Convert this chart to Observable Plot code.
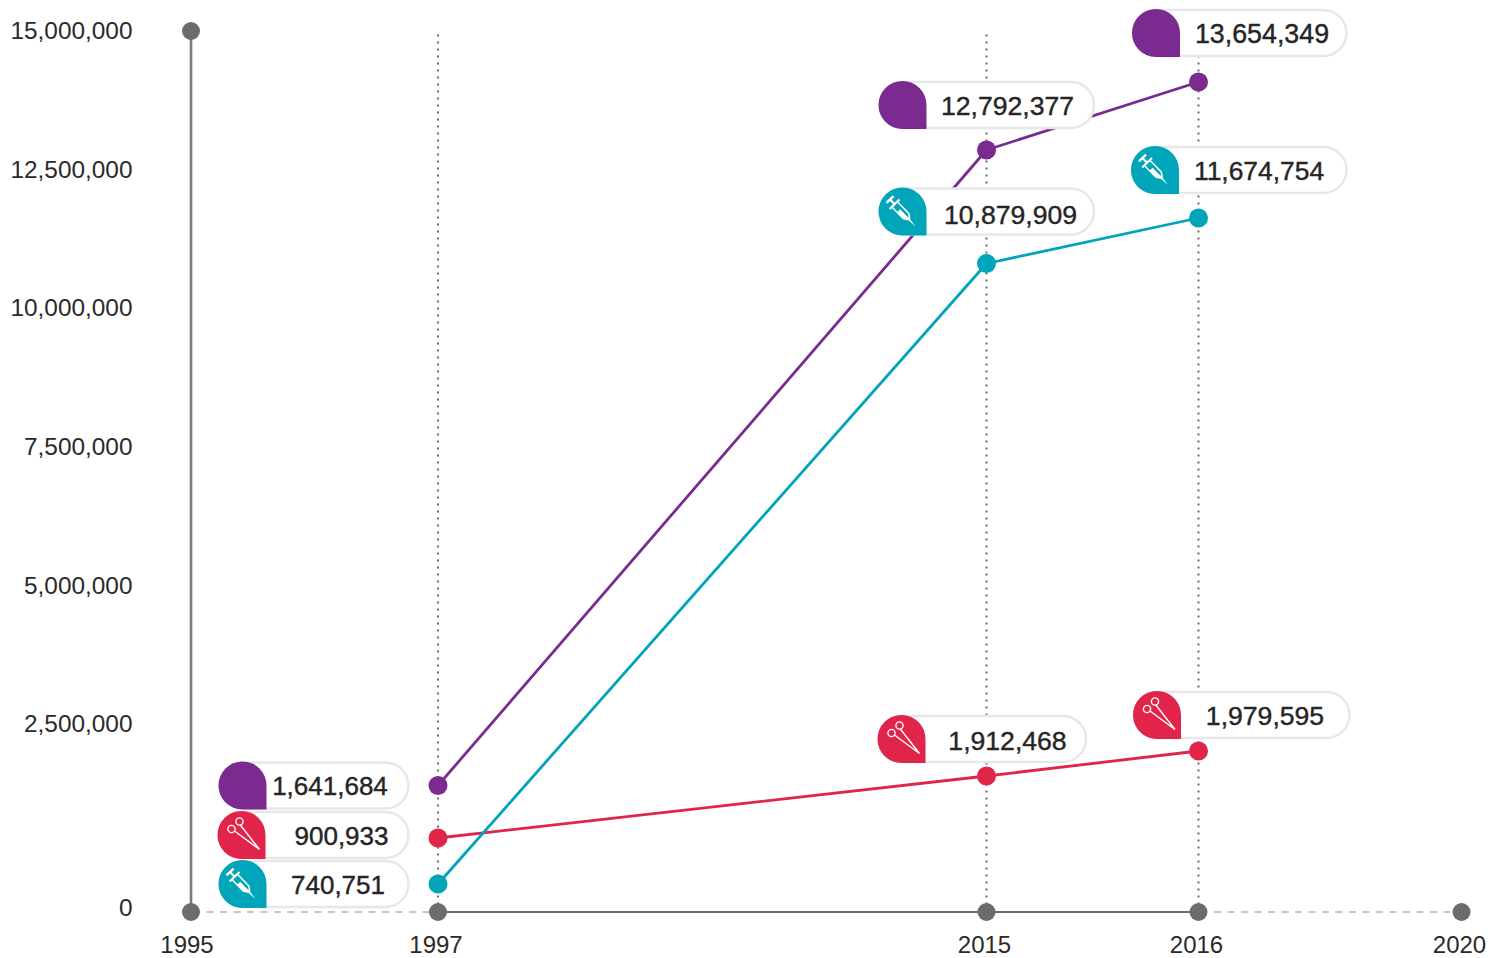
<!DOCTYPE html>
<html>
<head>
<meta charset="utf-8">
<style>
  html, body { margin: 0; padding: 0; background: #fff; }
  svg { display: block; }
</style>
<script src="https://cdn.jsdelivr.net/npm/d3@7"></script>
<script src="https://cdn.jsdelivr.net/npm/@observablehq/plot@0.6"></script>
</head>
<body>
<div id="chart"></div>
<script>
// ---- data ----
const years = [1997, 2015, 2016];
const totalProcedures = [1641684, 12792377, 13654349];
const surgical = [900933, 1912468, 1979595];
const nonsurgical = [740751, 10879909, 11674754];
const axisYears = [1995, 1997, 2015, 2016, 2020];
const yTicks = [2500000, 5000000, 7500000, 10000000, 12500000, 15000000];

// ---- styling and layout ----
const colors = { total: "#7b2a90", surgical: "#e0244a", nonsurgical: "#00a5b9" };
const grey = "#6f6b6c";
const font = "'Liberation Sans', Arial, sans-serif";

// The original's axes are not uniform: each scale is piecewise between these stops.
const xStops = [190.5, 437.5, 986, 1198, 1461];
const yDomain = [0, 740751, 900933, 1641684, 1912468, 1979595, 2500000, 5000000, 7500000,
  10000000, 10879909, 11674754, 12500000, 12792377, 13654349, 15000000];
const yStops = [911.5, 883.5, 837.5, 785, 775.5, 750.5, 723.5, 585.5, 446.5, 307.5, 263, 217.5, 169.5, 149.5, 81.5, 30.5];

const series = [
  { key: "total", values: totalProcedures },
  { key: "surgical", values: surgical },
  { key: "nonsurgical", values: nonsurgical }
];
const rows = series.flatMap(s => years.map((year, i) => ({ year, value: s.values[i], key: s.key })));

// Callout placement relative to each point: left edge, vertical centre, pill width, text centre and baseline centre.
const callouts = [
  { key: "total",       i: 0, left: -219,   cy: 0.5,  w: 190, tx: 111.5, ty: 24.5, fs: 26 },
  { key: "surgical",    i: 0, left: -220,   cy: -2.5, w: 191, tx: 124,   ty: 25,   fs: 26 },
  { key: "nonsurgical", i: 0, left: -219,   cy: 0.5,  w: 190, tx: 119.5, ty: 24.5, fs: 26 },
  { key: "total",       i: 1, left: -107.5, cy: -44.5, w: 215.5, tx: 129, ty: 25,   fs: 26.6 },
  { key: "surgical",    i: 1, left: -108.5, cy: -36.5, w: 208.5, tx: 130, ty: 26,   fs: 26.6 },
  { key: "nonsurgical", i: 1, left: -107.5, cy: -51.5, w: 215.5, tx: 132, ty: 27.5, fs: 26.6 },
  { key: "total",       i: 2, left: -66,    cy: -48.5, w: 214.5, tx: 130, ty: 25,   fs: 26.8 },
  { key: "surgical",    i: 2, left: -65,    cy: -35.5, w: 216.5, tx: 132, ty: 25,   fs: 26.6 },
  { key: "nonsurgical", i: 2, left: -67,    cy: -47.5, w: 215.5, tx: 128, ty: 25,   fs: 26.4 }
];

function drawIcon(g, key) {
  if (key === "surgical") {
    const ic = g.append("g").attr("fill", "none").attr("stroke", "#fff").attr("stroke-width", 1.4);
    ic.append("circle").attr("cx", 14).attr("cy", 18).attr("r", 3.6);
    ic.append("circle").attr("cx", 22).attr("cy", 10.5).attr("r", 3.6);
    ic.append("path").attr("d", "M17,20 L42,38.5 M22.8,14 L42,38.5").attr("stroke-linejoin", "round");
  } else if (key === "nonsurgical") {
    const ic = g.append("g").attr("transform", "translate(11.5,12) rotate(46)");
    // plunger and flange
    ic.append("path").attr("fill", "#fff").attr("d",
      "M-1.2,-5 h2.4 v10 h-2.4z M0,-1.1 h6 v2.2 h-6z M5.5,-6.8 h2.2 v13.6 h-2.2z");
    // barrel outline
    ic.append("path").attr("fill", "none").attr("stroke", "#fff").attr("stroke-width", 1.5)
      .attr("d", "M7.5,-3.8 H23 L27,-1.2 V1.2 L23,3.8 H7.5");
    // liquid in the barrel
    ic.append("path").attr("fill", "#fff").attr("d", "M14,-0.6 H23 L27,-1.2 V1.2 L23,3.8 H14 Z");
    // needle
    ic.append("path").attr("fill", "#fff").attr("d", "M27,-1 L37,0.6 L27,1.1 Z");
  }
}

function calloutMark(index, scales) {
  const root = d3.create("svg:g").attr("font-family", font);
  for (const c of callouts) {
    const values = series.find(s => s.key === c.key).values;
    const px = scales.x(years[c.i]);
    const py = scales.y(values[c.i]);
    const g = root.append("g").attr("transform", `translate(${px + c.left},${py + c.cy - 24})`);
    g.append("rect").attr("x", 1).attr("y", 1).attr("width", c.w - 1).attr("height", 46)
      .attr("rx", 23).attr("fill", "#fff").attr("stroke", "#e6e7e8").attr("stroke-width", 2.4);
    g.append("path").attr("d", "M0,24 A24,24 0 0 1 48,24 V48 H24 A24,24 0 0 1 0,24 Z")
      .attr("fill", colors[c.key]);
    drawIcon(g, c.key);
    g.append("text").attr("x", c.tx).attr("y", c.ty).attr("dy", "0.35em")
      .attr("text-anchor", "middle").attr("font-size", c.fs).attr("fill", "#262424")
      .attr("stroke", "#262424").attr("stroke-width", 0.4)
      .text(d3.format(",")(values[c.i]));
  }
  return root.node();
}

const axisText = { anchor: "left", tickSize: 0, tickPadding: 59, tickFormat: d3.format(","), label: null, fontSize: 24.4, fill: "#2b2a2a" };
const xAxisText = { anchor: "bottom", tickSize: 0, tickPadding: 23, tickFormat: d => String(d), label: null, fontSize: 24, fill: "#2b2a2a" };

const chart = Plot.plot({
  width: 1492,
  height: 958,
  marginLeft: 191,
  marginRight: 30.5,
  marginTop: 31,
  marginBottom: 46,
  style: { background: "#fff", fontFamily: font, overflow: "visible" },
  x: { type: "linear", domain: axisYears, range: xStops },
  y: { type: "linear", domain: yDomain, range: yStops },
  marks: [
    Plot.ruleX(years, { y1: 0, y2: 15000000, stroke: grey, strokeWidth: 2, strokeDasharray: "2 5" }),
    Plot.ruleY([0], { x1: 1995, x2: 1997, insetLeft: 16, insetRight: 6, stroke: "#c9c8b8", strokeWidth: 2, strokeDasharray: "7 6.5" }),
    Plot.ruleY([0], { x1: 2016, x2: 2020, insetLeft: 16, insetRight: 6, stroke: "#c9c8b8", strokeWidth: 2, strokeDasharray: "7 6.5" }),
    Plot.ruleY([0], { x1: 1997, x2: 2016, stroke: grey, strokeWidth: 2.2 }),
    Plot.ruleX([1995], { y1: 0, y2: 15000000, stroke: "#7f7b7c", strokeWidth: 2.6 }),
    Plot.dot(axisYears, { x: d => d, y: () => 0, r: 9, fill: grey }),
    Plot.dot([15000000], { x: () => 1995, y: d => d, r: 9, fill: grey }),
    Plot.line(rows, { x: "year", y: "value", z: "key", stroke: d => colors[d.key], strokeWidth: 2.8, curve: "linear" }),
    Plot.dot(rows, { x: "year", y: "value", r: 9.5, fill: d => colors[d.key] }),
    calloutMark,
    Plot.axisY({ ...axisText, ticks: yTicks }),
    Plot.axisY({ ...axisText, ticks: [0], dy: -4 }),
    Plot.axisX({ ...xAxisText, ticks: [1995], dx: -4 }),
    Plot.axisX({ ...xAxisText, ticks: axisYears.slice(1), dx: -2 })
  ]
});
document.getElementById("chart").appendChild(chart);
</script>
</body>
</html>
